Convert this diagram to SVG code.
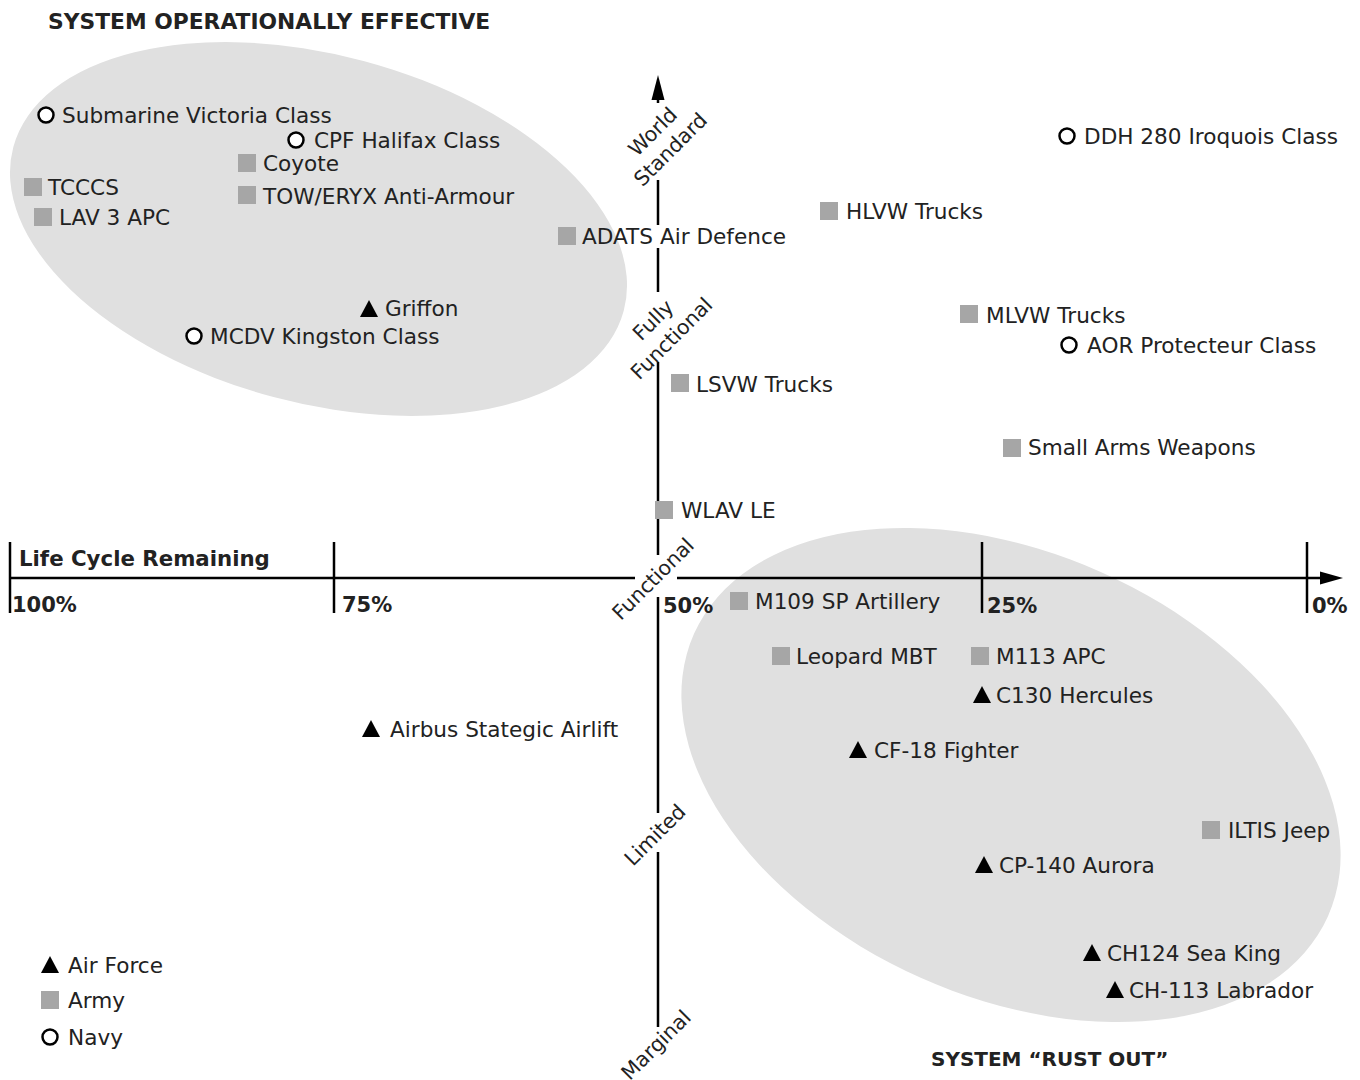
<svg xmlns="http://www.w3.org/2000/svg" width="1360" height="1080" viewBox="0 0 1360 1080">
<style>
text{font-family:"DejaVu Sans","Liberation Sans",sans-serif;fill:#222;}
.t{font-size:21.6px;}
.b{font-size:21.8px;font-weight:bold;}
.b2{font-size:20px;font-weight:bold;}
.lc{font-size:21.3px;font-weight:bold;}
.p{font-size:21px;font-weight:bold;}
.ax{font-size:20.5px;}
.sq{fill:#a6a6a6;}
.ci{fill:#fff;stroke:#000;stroke-width:2.5;}
.tr{fill:#000;}
.ln{stroke:#000;stroke-width:2.5;fill:none;}
.el{fill:#e0e0e0;}
</style>
<defs>
<rect id="msq" class="sq" x="-9" y="-9" width="18" height="18"/>
<circle id="mci" class="ci" r="7.5"/>
<polygon id="mtr" class="tr" points="0,-9 9,8 -9,8"/>
</defs>
<g id="regions">
<ellipse id="effective" class="el" cx="318.5" cy="229" rx="316" ry="174" transform="rotate(15 318.5 229)"/>
<ellipse id="rustout" class="el" cx="1011" cy="775" rx="347" ry="222" transform="rotate(24 1011 775)"/>
</g>
<g id="connectors">
<line class="ln" x1="10" y1="578" x2="635" y2="578"/>
<line class="ln" x1="677" y1="578" x2="1322" y2="578"/>
<polygon points="1343,578 1320,571.5 1320,584.5" fill="#000"/>
<line class="ln" x1="10" y1="542" x2="10" y2="613"/>
<line class="ln" x1="334" y1="542" x2="334" y2="613"/>
<line class="ln" x1="982" y1="542" x2="982" y2="613"/>
<line class="ln" x1="1307" y1="542" x2="1307" y2="613"/>
<polygon points="658,75 651.5,100 664.5,100" fill="#000"/>
<line class="ln" x1="658" y1="98" x2="658" y2="103"/>
<line class="ln" x1="658" y1="180" x2="658" y2="225"/>
<line class="ln" x1="658" y1="248" x2="658" y2="292"/>
<line class="ln" x1="658" y1="362" x2="658" y2="555"/>
<line class="ln" x1="658" y1="597" x2="658" y2="813"/>
<line class="ln" x1="658" y1="852" x2="658" y2="1027"/>
</g>
<g id="labels">
<text class="b" x="48" y="29">SYSTEM OPERATIONALLY EFFECTIVE</text>
<text class="b2" x="931" y="1066">SYSTEM “RUST OUT”</text>
<text class="lc" x="19" y="566">Life Cycle Remaining</text>
<text class="p" x="12" y="612">100%</text>
<text class="p" x="342" y="612">75%</text>
<text class="p" x="663" y="613">50%</text>
<text class="p" x="987" y="613">25%</text>
<text class="p" x="1312" y="613">0%</text>
<g transform="translate(662 141) rotate(-45)"><text class="ax" text-anchor="middle" y="-6">World</text><text class="ax" text-anchor="middle" y="19">Standard</text></g>
<g transform="translate(663 330) rotate(-45)"><text class="ax" text-anchor="middle" y="-7">Fully</text><text class="ax" text-anchor="middle" y="19">Functional</text></g>
<text class="ax" text-anchor="middle" transform="translate(658 584) rotate(-45)">Functional</text>
<text class="ax" text-anchor="middle" transform="translate(660 840) rotate(-45)">Limited</text>
<text class="ax" text-anchor="middle" transform="translate(661 1050) rotate(-45)">Marginal</text>
</g>
<g id="n-submarine"><use href="#mci" x="46" y="115"/><text class="t" x="62" y="123">Submarine Victoria Class</text></g>
<g id="n-cpf"><use href="#mci" x="296" y="140"/><text class="t" x="314" y="148">CPF Halifax Class</text></g>
<g id="n-coyote"><use href="#msq" x="247" y="163"/><text class="t" x="263" y="171">Coyote</text></g>
<g id="n-tcccs"><use href="#msq" x="33" y="187"/><text class="t" x="48" y="195">TCCCS</text></g>
<g id="n-tow"><use href="#msq" x="247" y="195"/><text class="t" x="263" y="204">TOW/ERYX Anti-Armour</text></g>
<g id="n-lav3"><use href="#msq" x="43" y="217"/><text class="t" x="59" y="225">LAV 3 APC</text></g>
<g id="n-adats"><use href="#msq" x="567" y="236"/><text class="t" x="582" y="244">ADATS Air Defence</text></g>
<g id="n-griffon"><use href="#mtr" x="369" y="309"/><text class="t" x="385" y="316">Griffon</text></g>
<g id="n-mcdv"><use href="#mci" x="194" y="336"/><text class="t" x="210" y="344">MCDV Kingston Class</text></g>
<g id="n-ddh"><use href="#mci" x="1067" y="136"/><text class="t" x="1084" y="144">DDH 280 Iroquois Class</text></g>
<g id="n-hlvw"><use href="#msq" x="829" y="211"/><text class="t" x="846" y="219">HLVW Trucks</text></g>
<g id="n-mlvw"><use href="#msq" x="969" y="314"/><text class="t" x="986" y="323">MLVW Trucks</text></g>
<g id="n-aor"><use href="#mci" x="1069" y="345"/><text class="t" x="1087" y="353">AOR Protecteur Class</text></g>
<g id="n-lsvw"><use href="#msq" x="680" y="383"/><text class="t" x="696" y="392">LSVW Trucks</text></g>
<g id="n-smallarms"><use href="#msq" x="1012" y="448"/><text class="t" x="1028" y="455">Small Arms Weapons</text></g>
<g id="n-wlav"><use href="#msq" x="664" y="510"/><text class="t" x="681" y="518">WLAV LE</text></g>
<g id="n-m109"><use href="#msq" x="739" y="601"/><text class="t" x="755" y="609">M109 SP Artillery</text></g>
<g id="n-leopard"><use href="#msq" x="781" y="656"/><text class="t" x="796" y="664">Leopard MBT</text></g>
<g id="n-m113"><use href="#msq" x="980" y="656"/><text class="t" x="996" y="664">M113 APC</text></g>
<g id="n-c130"><use href="#mtr" x="982" y="695"/><text class="t" x="996" y="703">C130 Hercules</text></g>
<g id="n-cf18"><use href="#mtr" x="858" y="750"/><text class="t" x="874" y="758">CF-18 Fighter</text></g>
<g id="n-airbus"><use href="#mtr" x="371" y="729"/><text class="t" x="390" y="737">Airbus Stategic Airlift</text></g>
<g id="n-iltis"><use href="#msq" x="1211" y="830"/><text class="t" x="1228" y="838">ILTIS Jeep</text></g>
<g id="n-cp140"><use href="#mtr" x="984" y="865"/><text class="t" x="999" y="873">CP-140 Aurora</text></g>
<g id="n-ch124"><use href="#mtr" x="1092" y="953"/><text class="t" x="1107" y="961">CH124 Sea King</text></g>
<g id="n-ch113"><use href="#mtr" x="1115" y="990"/><text class="t" x="1129" y="998">CH-113 Labrador</text></g>
<g id="legend">
<use href="#mtr" x="50" y="965"/><text class="t" x="68" y="973">Air Force</text>
<use href="#msq" x="50" y="1000"/><text class="t" x="68" y="1008">Army</text>
<use href="#mci" x="50" y="1037"/><text class="t" x="68" y="1045">Navy</text>
</g>
</svg>
